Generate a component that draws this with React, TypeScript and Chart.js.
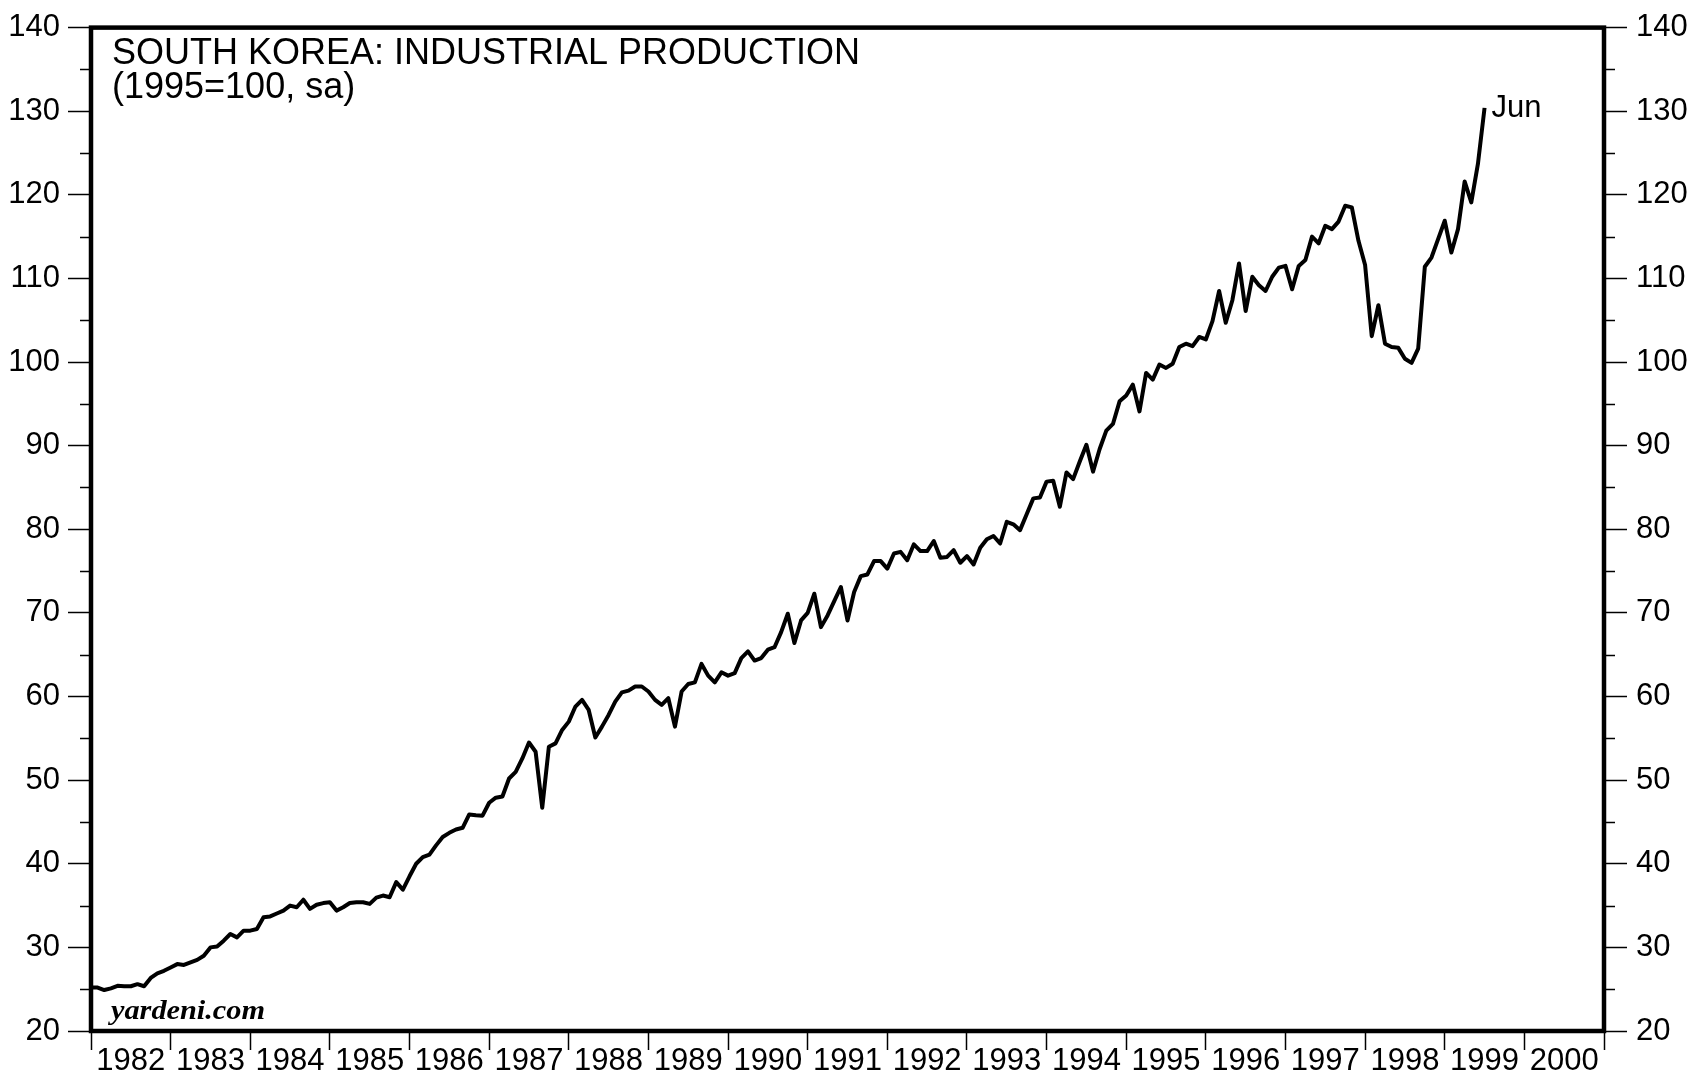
import React, { useEffect, useRef } from "react";
import { Chart, registerables } from "chart.js";

Chart.register(...registerables);

// Monthly index values (1995=100, sa); each point is placed at month end.
const dec1981 = [25.2];
const y1982 = [25.2, 24.9, 25.1, 25.4, 25.35, 25.35, 25.6, 25.35, 26.35, 26.9, 27.2, 27.6];
const y1983 = [28.0, 27.9, 28.2, 28.5, 29.0, 30.0, 30.1, 30.8, 31.6, 31.2, 32.0, 32.0];
const y1984 = [32.2, 33.6, 33.7, 34.05, 34.4, 35.0, 34.8, 35.7, 34.6, 35.1, 35.3, 35.4];
const y1985 = [34.4, 34.8, 35.3, 35.4, 35.4, 35.2, 35.95, 36.2, 36.0, 37.8, 36.9, 38.5];
const y1986 = [40.0, 40.8, 41.1, 42.2, 43.2, 43.7, 44.1, 44.3, 45.9, 45.8, 45.75, 47.3];
const y1987 = [47.9, 48.05, 50.2, 51.0, 52.6, 54.5, 53.4, 46.7, 54.0, 54.4, 56.0, 57.0];
const y1988 = [58.8, 59.6, 58.4, 55.1, 56.4, 57.8, 59.4, 60.5, 60.7, 61.2, 61.2, 60.6];
const y1989 = [59.6, 59.0, 59.8, 56.4, 60.6, 61.5, 61.7, 63.9, 62.5, 61.7, 62.9, 62.5];
const y1990 = [62.8, 64.6, 65.4, 64.3, 64.6, 65.6, 65.9, 67.7, 69.9, 66.4, 69.1, 70.0];
const y1991 = [72.3, 68.3, 69.7, 71.4, 73.1, 69.1, 72.5, 74.4, 74.6, 76.2, 76.2, 75.3];
const y1992 = [77.1, 77.3, 76.3, 78.2, 77.4, 77.4, 78.6, 76.6, 76.7, 77.5, 76.0, 76.8];
const y1993 = [75.8, 77.8, 78.8, 79.2, 78.3, 80.9, 80.6, 79.9, 81.8, 83.7, 83.8, 85.7];
const y1994 = [85.8, 82.7, 86.8, 86.0, 88.1, 90.1, 86.9, 89.6, 91.8, 92.6, 95.3, 96.0];
const y1995 = [97.3, 94.1, 98.7, 97.9, 99.7, 99.3, 99.8, 101.8, 102.2, 101.9, 103.0, 102.7];
const y1996 = [104.9, 108.5, 104.7, 107.4, 111.8, 106.1, 110.2, 109.2, 108.5, 110.2, 111.3, 111.5];
const y1997 = [108.7, 111.5, 112.2, 115.0, 114.2, 116.3, 115.9, 116.8, 118.7, 118.5, 114.5, 111.6];
const y1998 = [103.1, 106.8, 102.2, 101.8, 101.7, 100.4, 99.9, 101.6, 111.4, 112.5, 114.7, 116.9];
const y1999 = [113.1, 115.9, 121.6, 119.1, 123.7, 130.4];

const SERIES_START = 1982; // end of Dec 1981
const yearTicks = [1982, 1983, 1984, 1985, 1986, 1987, 1988, 1989, 1990, 1991, 1992, 1993, 1994, 1995, 1996, 1997, 1998, 1999, 2000, 2001];
const yearLabels = ["1982", "1983", "1984", "1985", "1986", "1987", "1988", "1989", "1990", "1991", "1992", "1993", "1994", "1995", "1996", "1997", "1998", "1999", "2000", ""];
const yTicks = [20, 30, 40, 50, 60, 70, 80, 90, 100, 110, 120, 130, 140];
const yMinorTicks = [25, 35, 45, 55, 65, 75, 85, 95, 105, 115, 125, 135];

const TITLE = "SOUTH KOREA: INDUSTRIAL PRODUCTION";
const SUBTITLE = "(1995=100, sa)";
const LAST_LABEL = "Jun";
const SOURCE = "yardeni.com";

const FONT = "'Liberation Sans', Arial, Helvetica, sans-serif";
const SERIF = "'Liberation Serif', 'Times New Roman', serif";

const W = 1700;
const H = 1078;
const LEFT_W = 91;
const RIGHT_W = 96;
const TOP_PAD = 22;
const BOTTOM_H = 47;
const YEAR_W = (W - LEFT_W - RIGHT_W) / (yearTicks[yearTicks.length - 1] - yearTicks[0]);

const decorPlugin = {
  id: "decor",
  afterDraw(chart: any) {
    const { ctx, chartArea } = chart;
    const { left, right, top, bottom } = chartArea;
    const yS = chart.scales.y;
    ctx.save();
    // frame
    ctx.strokeStyle = "#000";
    ctx.lineWidth = 4.5;
    ctx.strokeRect(left, top, right - left, bottom - top);
    // minor ticks
    ctx.lineWidth = 1.5;
    ctx.beginPath();
    for (const v of yMinorTicks) {
      const y = Math.round(yS.getPixelForValue(v)) + 0.5;
      ctx.moveTo(left - 11, y);
      ctx.lineTo(left, y);
      ctx.moveTo(right, y);
      ctx.lineTo(right + 11, y);
    }
    ctx.stroke();
    // titles
    ctx.fillStyle = "#000";
    ctx.textAlign = "left";
    ctx.textBaseline = "alphabetic";
    ctx.font = `36px ${FONT}`;
    ctx.fillText(TITLE, 112, 64);
    ctx.fillText(SUBTITLE, 112, 98);
    // Jun label next to last point
    const meta = chart.getDatasetMeta(0);
    const last = meta.data[meta.data.length - 1];
    ctx.font = `31px ${FONT}`;
    ctx.textBaseline = "middle";
    ctx.fillText(LAST_LABEL, last.x + 7, last.y + 1);
    // source
    ctx.font = `bold italic 27px ${SERIF}`;
    ctx.textBaseline = "alphabetic";
    const mw = ctx.measureText(SOURCE).width;
    ctx.translate(111, 1019);
    ctx.scale(154 / mw, 1);
    ctx.fillText(SOURCE, 0, 0);
    ctx.restore();
  },
};

export default function App() {
  const ref = useRef<HTMLCanvasElement | null>(null);

  useEffect(() => {
    document.body.style.margin = "0";
    const series = [
      ...dec1981, ...y1982, ...y1983, ...y1984, ...y1985, ...y1986, ...y1987, ...y1988,
      ...y1989, ...y1990, ...y1991, ...y1992, ...y1993, ...y1994, ...y1995, ...y1996,
      ...y1997, ...y1998, ...y1999,
    ];
    const points = series.map((v, i) => ({ x: SERIES_START + i / 12, y: v }));

    const yAxisCommon = (width: number, pad: number) => ({
      min: 20,
      max: 140,
      afterBuildTicks: (s: any) => {
        s.ticks = yTicks.map((v) => ({ value: v }));
      },
      afterFit: (s: any) => {
        s.width = width;
      },
      ticks: {
        padding: pad,
        color: "#000",
        font: { family: FONT, size: 31 },
        callback: (v: any) => String(v),
      },
      grid: {
        drawOnChartArea: false,
        drawTicks: true,
        tickLength: 23,
        tickWidth: 1.5,
        tickColor: "#000",
      },
      border: { display: false },
    });

    const chart = new Chart(ref.current as HTMLCanvasElement, {
      type: "line",
      data: {
        datasets: [
          {
            data: points,
            borderColor: "#000",
            borderWidth: 4,
            borderJoinStyle: "round",
            borderCapStyle: "butt",
            pointRadius: 0,
            tension: 0,
            fill: false,
            yAxisID: "y",
            xAxisID: "x",
          },
        ],
      },
      options: {
        animation: false,
        responsive: false,
        devicePixelRatio: 1,
        layout: { padding: { top: TOP_PAD, left: 0, right: 0, bottom: 0 } },
        plugins: {
          legend: { display: false },
          tooltip: { enabled: false },
          title: { display: false },
        },
        scales: {
          x: {
            type: "linear",
            min: yearTicks[0],
            max: yearTicks[yearTicks.length - 1],
            afterBuildTicks: (s: any) => {
              s.ticks = yearTicks.map((v) => ({ value: v }));
            },
            afterFit: (s: any) => {
              s.height = BOTTOM_H;
            },
            ticks: {
              autoSkip: false,
              maxRotation: 0,
              minRotation: 0,
              labelOffset: YEAR_W / 2,
              padding: -7,
              color: "#000",
              font: { family: FONT, size: 31 },
              callback: (v: any) => {
                const i = yearTicks.indexOf(Number(v));
                return i >= 0 ? yearLabels[i] : "";
              },
            },
            grid: {
              drawOnChartArea: false,
              drawTicks: true,
              tickLength: 19,
              tickWidth: 1.5,
              tickColor: "#000",
            },
            border: { display: false },
          },
          y: { position: "left", ...yAxisCommon(LEFT_W, 8) } as any,
          y2: { position: "right", ...yAxisCommon(RIGHT_W, 9) } as any,
        },
      },
      plugins: [decorPlugin],
    } as any);

    return () => chart.destroy();
  }, []);

  return (
    <div style={{ width: W, height: H, background: "#fff" }}>
      <canvas ref={ref} width={W} height={H} style={{ display: "block", width: W, height: H }} />
    </div>
  );
}
